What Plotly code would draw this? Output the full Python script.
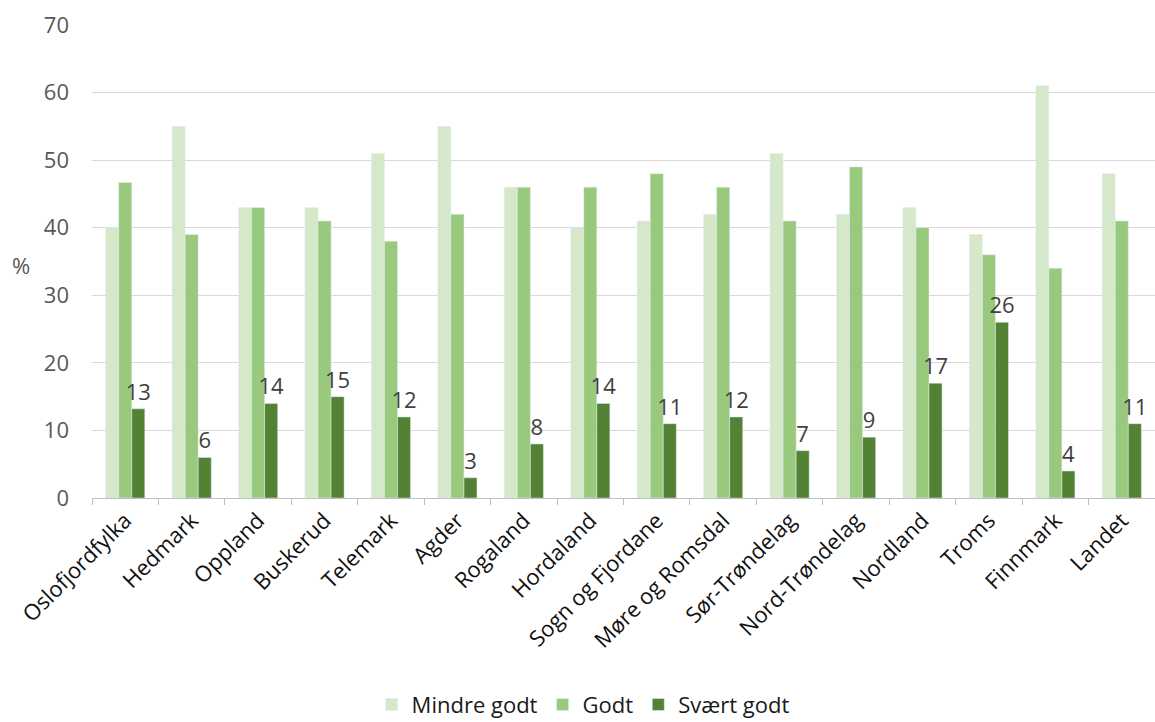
import plotly.graph_objects as go

categories = ["Oslofjordfylka", "Hedmark", "Oppland", "Buskerud", "Telemark", "Agder",
              "Rogaland", "Hordaland", "Sogn og Fjordane", "Møre og Romsdal",
              "Sør-Trøndelag", "Nord-Trøndelag", "Nordland", "Troms", "Finnmark", "Landet"]
mindre_godt = [40, 55, 43, 43, 51, 55, 46, 40, 41, 42, 51, 42, 43, 39, 61, 48]
godt = [46.7, 39, 43, 41, 38, 42, 46, 46, 48, 46, 41, 49, 40, 36, 34, 41]
svaert_godt = [13.2, 6, 14, 15, 12, 3, 8, 14, 11, 12, 7, 9, 17, 26, 4, 11]
svaert_labels = ["13", "6", "14", "15", "12", "3", "8", "14", "11", "12", "7", "9", "17", "26", "4", "11"]
y_ticks = [0, 10, 20, 30, 40, 50, 60, 70]

FONT = "Open Sans"
TXT = "#595959"
FS = 22

fig = go.Figure()
fig.add_trace(go.Bar(x=categories, y=mindre_godt, name="Mindre godt", marker_color="#d5e8c9"))
fig.add_trace(go.Bar(x=categories, y=godt, name="Godt", marker_color="#99c97c"))
fig.add_trace(go.Bar(x=categories, y=svaert_godt, name="Svært godt", marker_color="#548235",
                     text=svaert_labels, textposition="outside", cliponaxis=False,
                     constraintext="none",
                     textfont=dict(size=FS, color="#404040", family=FONT)))

fig.update_layout(
    width=1155, height=722,
    margin=dict(l=92, r=0, t=25, b=224, autoexpand=False),
    barmode="group", bargap=0.41, bargroupgap=0,
    plot_bgcolor="white", paper_bgcolor="white",
    font=dict(family=FONT, size=FS, color=TXT),
    showlegend=True,
    legend=dict(orientation="h", x=0.462, xanchor="center", y=-0.437, yanchor="middle",
                font=dict(size=FS, color="#1a1a1a", family=FONT), itemwidth=30,
                traceorder="normal"),
    xaxis=dict(tickangle=-45, ticks="outside", tickson="boundaries", ticklen=6,
               tickcolor="#bfbfbf", showline=True, linecolor="#bfbfbf", linewidth=1,
               automargin=False,
               tickfont=dict(size=FS, color="#111111", family=FONT)),
    yaxis=dict(range=[0, 70], tickvals=y_ticks, showgrid=True, gridcolor="#d9d9d9",
               gridwidth=1, zeroline=False, ticks="", showline=False, automargin=False,
               tickfont=dict(size=FS, color=TXT, family=FONT), ticklabelstandoff=22),
    annotations=[dict(text="%", xref="paper", yref="paper", x=-0.077, y=0.4926,
                      showarrow=False, font=dict(size=FS, color=TXT, family=FONT))],
)

fig.write_html("out.html", config={"displayModeBar": False},
               post_script="document.body.style.margin='0';document.body.style.padding='0';")
